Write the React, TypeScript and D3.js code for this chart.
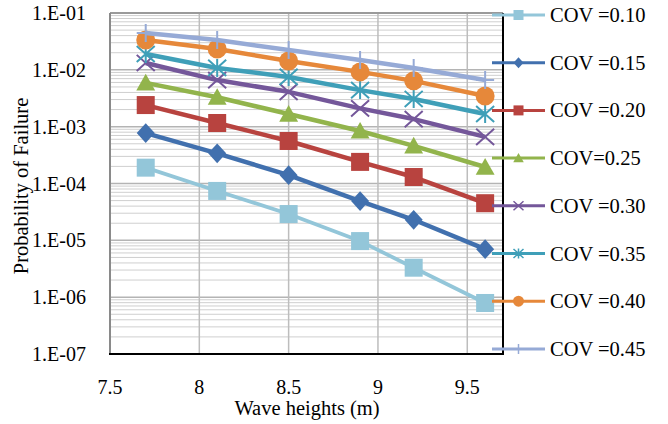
import React from "react";
import * as d3 from "d3";

const xValues = [7.7, 8.1, 8.5, 8.9, 9.2, 9.6];
const cov010 = [1.9e-4, 7.4e-5, 2.9e-5, 9.7e-6, 3.3e-6, 7.9e-7];
const cov015 = [7.7e-4, 3.4e-4, 1.4e-4, 4.9e-5, 2.3e-5, 7.0e-6];
const cov020 = [2.4e-3, 1.16e-3, 5.6e-4, 2.4e-4, 1.3e-4, 4.5e-5];
const cov025 = [5.9e-3, 3.3e-3, 1.67e-3, 8.4e-4, 4.6e-4, 1.95e-4];
const cov030 = [1.32e-2, 6.6e-3, 4.1e-3, 2.1e-3, 1.36e-3, 6.6e-4];
const cov035 = [1.9e-2, 1.08e-2, 7.5e-3, 4.4e-3, 3.07e-3, 1.67e-3];
const cov040 = [3.35e-2, 2.33e-2, 1.43e-2, 9.2e-3, 6.4e-3, 3.47e-3];
const cov045 = [4.45e-2, 3.35e-2, 2.23e-2, 1.49e-2, 1.08e-2, 6.6e-3];

const seriesLabels = ["COV =0.10", "COV =0.15", "COV =0.20", "COV=0.25", "COV =0.30", "COV =0.35", "COV =0.40", "COV =0.45"];
const seriesColors = ["#93C6D9", "#4170AE", "#B8433F", "#92B44C", "#74579A", "#3F9FB8", "#E6883A", "#96AAD6"];
const seriesMarkers = ["square", "diamond", "square", "triangle", "x", "star", "circle", "plus"];

const yTickValues = [1e-1, 1e-2, 1e-3, 1e-4, 1e-5, 1e-6, 1e-7];
const yTickLabels = ["1.E-01", "1.E-02", "1.E-03", "1.E-04", "1.E-05", "1.E-06", "1.E-07"];
const xTickValues = [7.5, 8, 8.5, 9, 9.5];
const xTickLabels = ["7.5", "8", "8.5", "9", "9.5"];

const xTitle = "Wave heights (m)";
const yTitle = "Probability of Failure";

const FONT = "Liberation Serif, Times New Roman, Tinos, DejaVu Serif, serif";

function Marker({ kind, cx, cy, s, color }: { kind: string; cx: number; cy: number; s: number; color: string }) {
  const h = s / 2;
  const sw = s > 12 ? 2 : 1.5;
  switch (kind) {
    case "square":
      return <rect x={cx - h} y={cy - h} width={s} height={s} fill={color} />;
    case "diamond":
      return <path d={`M${cx},${cy - h * 1.1}L${cx + h},${cy}L${cx},${cy + h * 1.1}L${cx - h},${cy}Z`} fill={color} />;
    case "triangle":
      return <path d={`M${cx},${cy - h}L${cx + h * 1.05},${cy + h * 0.85}L${cx - h * 1.05},${cy + h * 0.85}Z`} fill={color} />;
    case "circle":
      return <circle cx={cx} cy={cy} r={h} fill={color} />;
    case "x":
      return (
        <path
          d={`M${cx - h},${cy - h * 0.9}L${cx + h},${cy + h * 0.9}M${cx + h},${cy - h * 0.9}L${cx - h},${cy + h * 0.9}`}
          stroke={color}
          strokeWidth={sw}
          fill="none"
        />
      );
    case "star":
      return (
        <path
          d={`M${cx - h},${cy - h * 0.9}L${cx + h},${cy + h * 0.9}M${cx + h},${cy - h * 0.9}L${cx - h},${cy + h * 0.9}M${cx},${cy - h}L${cx},${cy + h}`}
          stroke={color}
          strokeWidth={sw}
          fill="none"
        />
      );
    case "plus":
      return (
        <path d={`M${cx - h},${cy}L${cx + h},${cy}M${cx},${cy - h}L${cx},${cy + h}`} stroke={color} strokeWidth={sw} fill="none" />
      );
    default:
      return null;
  }
}

export default function App() {
  const W = 668;
  const H = 424;
  const left = 110,
    right = 503,
    top = 13,
    bottom = 354;
  const x = d3.scaleLinear().domain([7.5, 9.7]).range([left, right]);
  const y = d3.scaleLog().domain([1e-7, 1e-1]).range([bottom, top]);

  const allSeries = [cov010, cov015, cov020, cov025, cov030, cov035, cov040, cov045];

  const minorTicks: number[] = [];
  for (let e = -7; e < -1; e++) {
    for (let m = 2; m <= 9; m++) minorTicks.push(m * Math.pow(10, e));
  }

  const line = d3
    .line<number>()
    .x((_, i) => x(xValues[i]))
    .y((d) => y(d));

  const legendX0 = 492,
    legendX1 = 545,
    legendTextX = 550,
    legendY0 = 15,
    legendStep = 47.7;

  return (
    <svg width={W} height={H} style={{ position: "absolute", left: 0, top: 0, background: "#fff" }}>
      {minorTicks.map((t, i) => (
        <line key={"mn" + i} x1={left} x2={right} y1={y(t)} y2={y(t)} stroke="#CFCFCF" strokeWidth={1} />
      ))}
      {yTickValues.map((t, i) => (
        <line key={"mj" + i} x1={left} x2={right} y1={y(t)} y2={y(t)} stroke="#B4B4B4" strokeWidth={1.5} />
      ))}
      {xTickValues.slice(1).map((t, i) => (
        <line key={"vx" + i} x1={x(t)} x2={x(t)} y1={top} y2={bottom} stroke="#BDBDBD" strokeWidth={1.5} />
      ))}
      <line x1={left} x2={right} y1={top} y2={top} stroke="#9A9A9A" strokeWidth={2} />
      <line x1={left} x2={left} y1={top} y2={bottom} stroke="#8A8A8A" strokeWidth={2} />
      <line x1={right} x2={right} y1={top} y2={bottom + 1} stroke="#000" strokeWidth={2} />
      <line x1={left - 1} x2={right + 1} y1={bottom} y2={bottom} stroke="#000" strokeWidth={2} />

      {allSeries.map((vals, si) => (
        <g key={"s" + si}>
          <path d={line(vals) || ""} fill="none" stroke={seriesColors[si]} strokeWidth={si === 0 ? 3.8 : 4.5} strokeLinejoin="round" />
          {vals.map((v, i) => (
            <Marker
              key={i}
              kind={seriesMarkers[si]}
              cx={x(xValues[i])}
              cy={y(v)}
              s={seriesMarkers[si] === "circle" ? 19 : 18}
              color={seriesColors[si]}
            />
          ))}
        </g>
      ))}

      {yTickValues.map((t, i) => (
        <text key={"yl" + i} x={86} y={y(t) + 7} textAnchor="end" fontFamily={FONT} fontSize={20} fill="#000">
          {yTickLabels[i]}
        </text>
      ))}
      {xTickValues.map((t, i) => (
        <text key={"xl" + i} x={x(t)} y={394} textAnchor="middle" fontFamily={FONT} fontSize={20} fill="#000">
          {xTickLabels[i]}
        </text>
      ))}
      <text x={307} y={415} textAnchor="middle" fontFamily={FONT} fontSize={20.5} fill="#000">
        {xTitle}
      </text>
      <text transform="translate(28,186) rotate(-90)" textAnchor="middle" fontFamily={FONT} fontSize={20.5} fill="#000">
        {yTitle}
      </text>

      {seriesLabels.map((lab, i) => {
        const ly = legendY0 + i * legendStep;
        return (
          <g key={"lg" + i}>
            <line x1={legendX0} x2={legendX1} y1={ly} y2={ly} stroke={seriesColors[i]} strokeWidth={3} />
            <Marker
              kind={seriesMarkers[i]}
              cx={(legendX0 + legendX1) / 2}
              cy={ly}
              s={seriesMarkers[i] === "circle" ? 11 : 10}
              color={seriesColors[i]}
            />
            <text x={legendTextX} y={ly + 7} fontFamily={FONT} fontSize={20.5} fill="#000">
              {lab}
            </text>
          </g>
        );
      })}
    </svg>
  );
}
